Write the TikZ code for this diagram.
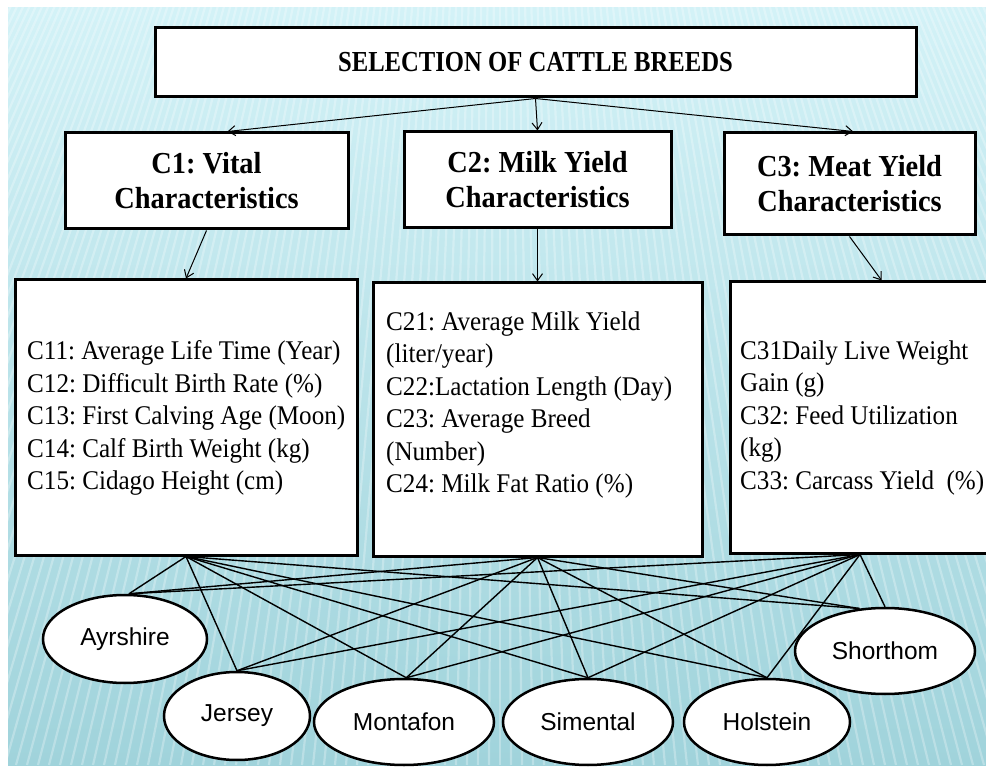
\documentclass[tikz,border=0pt]{standalone}
\usepackage{fontspec}
\setmainfont[FakeStretch=0.93]{Liberation Serif}
\newfontfamily\titlefont[FakeStretch=0.85]{Liberation Serif}
\newfontfamily\arialf{Liberation Sans}
\usetikzlibrary{shapes.geometric,arrows.meta}
\pgfdeclarelayer{back}
\pgfdeclarelayer{mid}
\pgfsetlayers{back,mid,main}
\definecolor{bgtop}{HTML}{D3F2F7}
\definecolor{bgbot}{HTML}{A0D3DB}
\tikzset{
  hdr/.style={draw=black, line width=3pt, fill=white, align=center,
    font=\frenchspacing\bfseries\fontsize{30.5}{35}\selectfont, inner sep=0pt},
  listbox/.style={draw=black, line width=3pt, fill=white, inner sep=0pt},
  listtxt/.style={align=left, font=\frenchspacing\fontsize{27}{32.5}\selectfont, inner sep=0pt, anchor=west},
  breed/.style={ellipse, draw=black, line width=2.5pt, fill=white, inner sep=0pt,
    font=\arialf\fontsize{24.5}{28}\selectfont},
  arr/.style={-{Straight Barb[length=7pt,width=10pt]}, line width=1pt},
  link/.style={line width=1.4pt, black},
  stripe/.style={white, opacity=0.28, line width=2.2pt},
}
\begin{document}
\begin{tikzpicture}[x=1pt,y=-1pt]
\useasboundingbox (0,0) rectangle (986,767);

% nodes
\node[hdr, minimum width=761pt, minimum height=69pt, font=\titlefont\bfseries\fontsize{29}{32}\selectfont] (top) at (535.5,62.5) {SELECTION OF CATTLE BREEDS};
\node[hdr, minimum width=283pt, minimum height=96pt] (c1) at (206.5,181) {C1: Vital\\Characteristics};
\node[hdr, minimum width=267pt, minimum height=96pt] (c2) at (537.5,180) {C2: Milk Yield\\Characteristics};
\node[hdr, minimum width=251pt, minimum height=102pt] (c3) at (849.5,184) {C3: Meat Yield\\Characteristics};

\node[listbox, minimum width=342pt, minimum height=275pt] (L1) at (186,417.5) {};
\node[listbox, minimum width=329pt, minimum height=273pt] (L2) at (537.5,419.5) {};
\node[listbox, minimum width=260pt, minimum height=271pt] (L3) at (860,417.5) {};

\node[listtxt] (t1) at (27,418) {C11: Average Life Time (Year)\\C12: Difficult Birth Rate (\%)\\C13: First Calving Age (Moon)\\C14: Calf Birth Weight (kg)\\C15: Cidago Height (cm)};
\node[listtxt] (t2) at (386,405) {C21: Average Milk Yield\\(liter/year)\\C22:Lactation Length (Day)\\C23: Average Breed\\(Number)\\C24: Milk Fat Ratio (\%)};
\node[listtxt] (t3) at (740,418) {C31Daily Live Weight\\Gain (g)\\C32: Feed Utilization\\(kg)\\C33: Carcass Yield~ (\%)};

\node[breed, minimum width=164pt, minimum height=88pt] (ay) at (125,639) {Ayrshire};
\node[breed, minimum width=146pt, minimum height=88pt] (je) at (237,716) {Jersey};
\node[breed, minimum width=180pt, minimum height=86pt] (mo) at (404,722) {Montafon};
\node[breed, minimum width=170pt, minimum height=86pt] (si) at (588,722) {Simental};
\node[breed, minimum width=166pt, minimum height=86pt] (ho) at (767,722) {Holstein};
\node[breed, minimum width=180pt, minimum height=86pt] (sh) at (885,651) {Shorthom};

% arrows
\draw[arr] (top.south) -- (c1.67);
\draw[arr] (top.south) -- (c2.north);
\draw[arr] (top.south) -- (c3.86);
\draw[arr] (c1.south) -- (L1.north);
\draw[arr] (c2.south) -- (L2.north);
\draw[arr] (c3.south) -- (L3.81);

% links
\begin{pgfonlayer}{mid}
\foreach \s in {L1,L2,L3}{
  \foreach \t in {ay.85,je.north,mo.87,si.north,ho.north}{
    \draw[link] (\s.south) -- (\t);
  }
}
\draw[link] (L1.south) -- (sh.121);
\draw[link] (L2.south) -- (sh.121);
\draw[link] (L3.south) -- (sh.north);
\end{pgfonlayer}

% background
\begin{pgfonlayer}{back}
\fill[top color=bgtop, bottom color=bgbot] (8,8) rectangle (986,765);
\begin{scope}
\clip (8,8) rectangle (986,765);
\foreach \i in {-380,-369,...,1370}{
  \draw[stripe] (500,-1000) -- (\i,765);
}
\end{scope}
\end{pgfonlayer}
\end{tikzpicture}
\end{document}
